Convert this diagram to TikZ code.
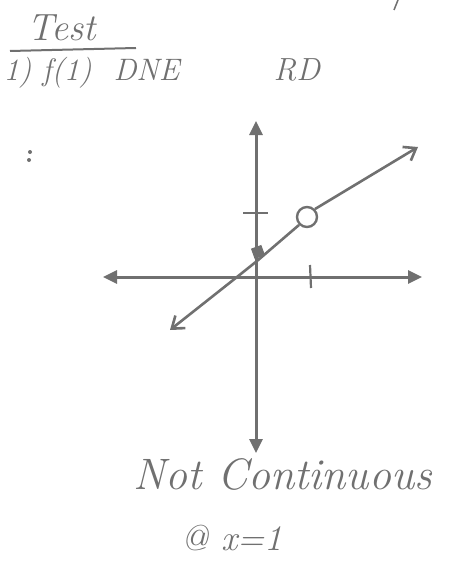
\documentclass[tikz,border=0pt]{standalone}
\usepackage{fontspec}
\setmainfont{Latin Modern Roman}
\usetikzlibrary{arrows.meta}
\definecolor{ink}{HTML}{707070}
\begin{document}
\begin{tikzpicture}[x=1pt,y=-1pt,
  axis/.style={draw=ink,line width=3pt,-{Triangle[length=14pt,width=13pt]}},
  graphline/.style={draw=ink,line width=2.6pt},
  hand/.style={text=ink,font=\itshape}]
\useasboundingbox (0,0) rectangle (456,567);
% header text
\node[hand,font=\fontsize{38}{40}\selectfont\itshape,anchor=west] (title) at (24,28) {Test};
\draw[ink,line width=2pt] (10,51) -- (136,48);
\node[hand,font=\fontsize{31}{33}\selectfont\itshape,anchor=west] (q1) at (0,73) {1) f(1)\ \ DNE};
\node[hand,font=\fontsize{32}{34}\selectfont\itshape,anchor=west] (rd) at (270,70) {RD};
\draw[ink,line width=1.5pt] (398,0) -- (394,10);
\fill[ink] (30,152) circle (2pt) (29,160) circle (2pt);
% axes
\coordinate (o) at (256,277);
\coordinate (yt) at (256,121);
\coordinate (yb) at (256,453);
\coordinate (xl) at (103,277);
\coordinate (xr) at (422,277);
\draw[axis] (o) -- (yt);
\draw[axis] (o) -- (yb);
\draw[axis] (o) -- (xl);
\draw[axis] (o) -- (xr);
% ticks
\coordinate (ty1) at (243,213);
\coordinate (ty2) at (268,213);
\draw[ink,line width=2pt] (ty1) -- (ty2);
\coordinate (tx1) at (310,265);
\coordinate (tx2) at (311,288);
\draw[ink,line width=2.2pt] (tx1) -- (tx2);
% graph line
\coordinate (p0) at (170,330);
\coordinate (p1) at (237,277);
\coordinate (p2) at (257,261);
\node[circle,draw=ink,line width=2.4pt,minimum size=20pt,inner sep=0pt] (hole) at (307,217) {};
\coordinate (p3) at (418,147);
\draw[graphline,{Straight Barb[length=11pt,width=16pt]}-] (p0) -- (p1) -- (p2) -- (hole.south west);
\draw[graphline,-{Straight Barb[length=11pt,width=16pt]}] (hole.north east) -- (p3);
\node[fill=ink,minimum size=11pt,inner sep=0pt,rotate=20] (dot) at (258,252) {};
% bottom text
\node[hand,font=\fontsize{44}{46}\selectfont\itshape,anchor=west] (nc) at (130,474) {Not Continuous};
\node[hand,font=\fontsize{36}{38}\selectfont\itshape,anchor=west] (at) at (178,538) {@ x=1};
\end{tikzpicture}
\end{document}
